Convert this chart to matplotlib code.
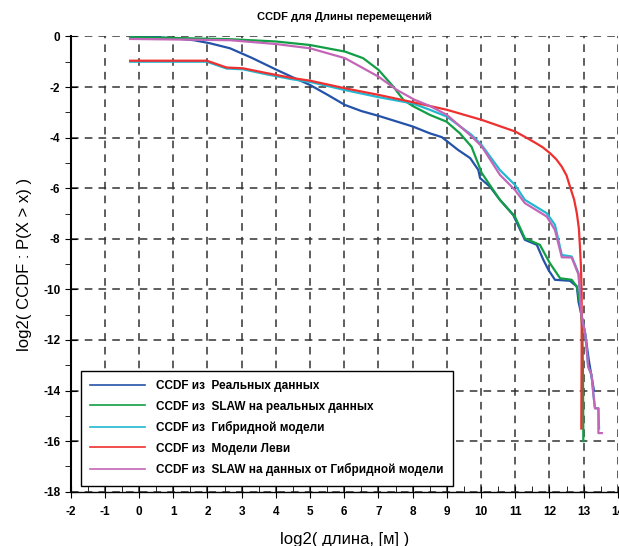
import matplotlib
matplotlib.use('agg')
import matplotlib.pyplot as plt
from matplotlib.ticker import MultipleLocator

plt.rcParams['font.family'] = ['Liberation Sans', 'DejaVu Sans']
plt.rcParams['axes.unicode_minus'] = False

# CCDF из Реальных данных
real_x = [-0.27, 0.5, 0.99, 1.6, 2.07, 2.66, 3.3, 4.02, 4.5, 5.0, 5.5, 6.02, 6.5, 7.0, 7.5, 8.0,
          8.5, 8.85, 9.33, 9.68, 9.92, 9.97, 10.26, 10.55, 10.94, 11.28, 11.63, 11.82, 11.97,
          12.16, 12.6, 12.8, 12.85, 12.95, 13.05, 13.15, 13.3]
real_y = [0.0, -0.03, -0.07, -0.15, -0.27, -0.47, -0.85, -1.32, -1.62, -1.92, -2.3, -2.71, -2.95,
          -3.14, -3.35, -3.56, -3.83, -3.98, -4.49, -4.81, -5.28, -5.6, -5.94, -6.46, -7.06,
          -8.04, -8.24, -8.83, -9.23, -9.62, -9.66, -9.89, -10.5, -11.1, -11.8, -12.8, -14.0]

# CCDF из SLAW на реальных данных
slaw_x = [-0.26, 1.0, 2.66, 4.0, 5.0, 6.02, 6.55, 7.0, 7.43, 7.73, 8.0, 8.5, 8.99, 9.38, 9.72,
          10.02, 10.55, 10.99, 11.28, 11.72, 12.01, 12.31, 12.65, 12.8, 12.9, 12.96, 12.98, 12.99]
slaw_y = [-0.03, -0.06, -0.11, -0.2, -0.34, -0.6, -0.86, -1.32, -1.98, -2.51, -2.75, -3.1, -3.37,
          -3.83, -4.36, -5.4, -6.46, -7.12, -7.98, -8.24, -8.96, -9.56, -9.62, -9.89, -10.6,
          -11.5, -13.5, -16.0]

# CCDF из Гибридной модели
hyb_x = [-0.26, 1.98, 2.56, 3.04, 3.73, 4.5, 5.0, 6.02, 7.0, 8.0, 8.5, 9.0, 9.72, 10.02, 10.55,
         10.99, 11.28, 11.92, 12.16, 12.36, 12.65, 12.85, 12.94, 13.04, 13.09, 13.13, 13.23,
         13.28, 13.33, 13.43, 13.45]
hyb_y = [-1.0, -1.0, -1.27, -1.3, -1.5, -1.7, -1.8, -2.12, -2.4, -2.65, -2.9, -3.17, -3.89, -4.3,
         -5.28, -5.87, -6.46, -6.99, -7.45, -8.64, -8.7, -9.36, -11.07, -11.73, -12.39, -13.05,
         -13.38, -14.1, -14.7, -14.7, -15.5]

# CCDF из Модели Леви
levy_x = [-0.26, 1.98, 2.56, 3.04, 3.73, 4.5, 5.0, 6.02, 7.0, 8.0, 9.0, 10.02, 11.0, 11.53,
          11.8, 12.02, 12.2, 12.36, 12.5, 12.6, 12.72, 12.8, 12.86, 12.89, 12.92, 12.94, 12.94,
          12.93]
levy_y = [-0.96, -0.96, -1.23, -1.26, -1.45, -1.65, -1.75, -2.05, -2.31, -2.6, -2.9, -3.3, -3.76,
          -4.16, -4.38, -4.62, -4.86, -5.15, -5.5, -5.94, -6.45, -6.99, -7.6, -8.3, -9.1, -10.15,
          -12.5, -15.5]

# CCDF из SLAW на данных от Гибридной модели
hslaw_x = [-0.26, 1.0, 2.66, 4.0, 5.0, 6.02, 7.0, 7.53, 8.05, 8.5, 9.0, 9.72, 10.02, 10.55, 10.99,
           11.28, 11.92, 12.16, 12.36, 12.65, 12.85, 12.94, 13.04, 13.09, 13.13, 13.23, 13.28,
           13.33, 13.43, 13.43, 13.53]
hslaw_y = [-0.1, -0.12, -0.15, -0.3, -0.47, -0.86, -1.59, -2.11, -2.5, -2.75, -3.1, -3.95, -4.35,
           -5.47, -6.07, -6.59, -7.12, -7.65, -8.73, -8.74, -9.42, -11.07, -11.73, -12.39,
           -13.05, -13.38, -14.1, -14.7, -14.7, -15.68, -15.68]

series = [
    (real_x, real_y, '#2452a8', 'CCDF из  Реальных данных'),
    (slaw_x, slaw_y, '#119e45', 'CCDF из  SLAW на реальных данных'),
    (hyb_x, hyb_y, '#22b8d2', 'CCDF из  Гибридной модели'),
    (levy_x, levy_y, '#ee3030', 'CCDF из  Модели Леви'),
    (hslaw_x, hslaw_y, '#c466b8', 'CCDF из  SLAW на данных от Гибридной модели'),
]

fig = plt.figure(figsize=(6.19, 5.46), dpi=100)
ax = fig.add_axes([0.1142, 0.0993, 0.884, 0.834])

for xs, ys, c, lab in series:
    ax.plot(xs, ys, '-', color=c, lw=1.6, label=lab)

ax.set_xlim(-2, 14)
ax.set_ylim(-18, 0)
ax.xaxis.set_major_locator(MultipleLocator(1))
ax.xaxis.set_minor_locator(MultipleLocator(0.5))
ax.yaxis.set_major_locator(MultipleLocator(2))
ax.yaxis.set_minor_locator(MultipleLocator(1))
ax.grid(True, which='major', color='#333333', ls=(0, (5, 4)), lw=1.1)

for s in ['top', 'right']:
    ax.spines[s].set_visible(False)
ax.spines['left'].set_linewidth(1.5)
ax.spines['bottom'].set_linewidth(1.0)

ax.tick_params(axis='x', which='major', direction='inout', length=8, labelsize=8.5, pad=6)
ax.tick_params(axis='x', which='minor', direction='in', length=4)
ax.tick_params(axis='y', which='major', direction='inout', length=8, labelsize=8.5)
ax.tick_params(axis='y', which='minor', direction='out', length=4)
for lbl in ax.get_xticklabels() + ax.get_yticklabels():
    lbl.set_fontweight('bold')

ax.set_title('CCDF для Длины перемещений', fontsize=8, fontweight='bold', pad=12)
ax.set_xlabel('log2( длина, [м] )', fontsize=12, labelpad=10)
ax.set_ylabel('log2( CCDF : P(X > x) )', fontsize=12, labelpad=8)

leg = ax.legend(loc='lower left', bbox_to_anchor=(0.012, 0.006),
                prop={'weight': 'bold', 'size': 8.5}, handlelength=4.6, handletextpad=1.0,
                fancybox=False, framealpha=1, edgecolor='black', borderpad=0.8,
                labelspacing=0.72, borderaxespad=0.3)
leg.get_frame().set_linewidth(1.0)
for l in leg.get_lines():
    l.set_linewidth(1.2)

plt.savefig('out.png', dpi=100)
